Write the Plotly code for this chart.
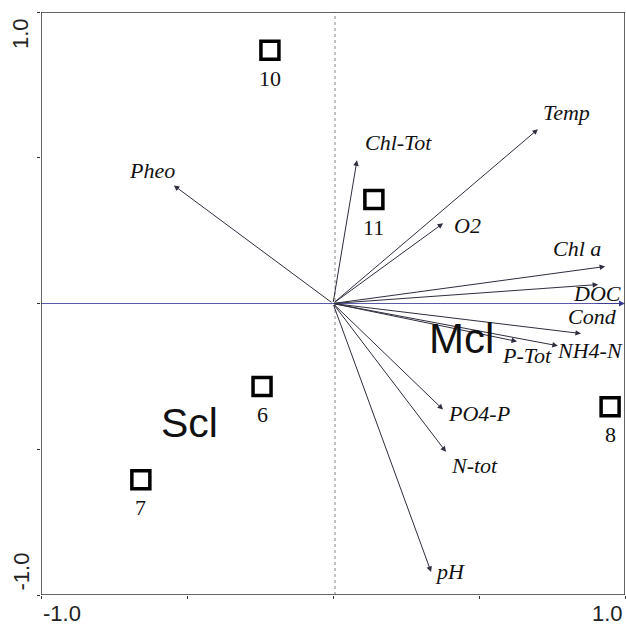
import plotly.graph_objects as go

# Environmental variable loadings (arrow tips)
var_names = ["Temp", "Chl-Tot", "Pheo", "O2", "Chl a", "DOC", "Cond", "NH4-N", "P-Tot", "PO4-P", "N-tot", "pH"]
var_x = [0.702, 0.082, -0.545, 0.377, 0.932, 0.908, 0.849, 0.77, 0.63, 0.377, 0.387, 0.336]
var_y = [0.598, 0.491, 0.405, 0.275, 0.127, 0.065, -0.103, -0.145, -0.13, -0.364, -0.509, -0.921]

# Sites
site_names = ["10", "11", "6", "7", "8"]
site_x = [-0.216, 0.140, -0.243, -0.658, 0.949]
site_y = [0.869, 0.357, -0.285, -0.605, -0.354]

# Group labels
group_names = ["Mcl", "Scl"]
group_x = [0.44, -0.49]
group_y = [-0.12, -0.41]

# label placement (layout) for variable labels
lab_x = [0.801, 0.223, -0.620, 0.462, 0.836, 0.904, 0.887, 0.880, 0.664, 0.500, 0.483, 0.401]
lab_y = [0.654, 0.551, 0.455, 0.266, 0.187, 0.036, -0.046, -0.160, -0.177, -0.376, -0.557, -0.921]

fig = go.Figure()

shapes = [
    dict(type="line", x0=0.007, x1=0.007, y0=-1, y1=1, xref="x", yref="y",
         line=dict(color="#b0b0b0", width=1.5, dash="dot")),
    dict(type="line", x0=-1, x1=1, y0=0, y1=0, xref="x", yref="y",
         line=dict(color="#5a5aa8", width=1.2)),
    dict(type="rect", x0=-1, x1=1, y0=-1, y1=1, xref="x", yref="y",
         line=dict(color="#333333", width=1.5)),
]

annotations = []
annotations.append(dict(x=1, y=0, ax=0.9, ay=0, xref="x", yref="y", axref="x", ayref="y",
                        showarrow=True, arrowhead=2, arrowsize=1, arrowwidth=1.2,
                        arrowcolor="#3a3a90", text=""))
for n, x, y, lx, ly in zip(var_names, var_x, var_y, lab_x, lab_y):
    annotations.append(dict(x=x, y=y, ax=0, ay=0, xref="x", yref="y", axref="x", ayref="y",
                            showarrow=True, arrowhead=2, arrowsize=1.1, arrowwidth=1,
                            arrowcolor="#2e2e3e", text=""))
    annotations.append(dict(x=lx, y=ly, xref="x", yref="y", showarrow=False,
                            text="<i>%s</i>" % n,
                            font=dict(family="Liberation Serif", size=22, color="#111111")))

for n, x, y in zip(site_names, site_x, site_y):
    annotations.append(dict(x=x, y=y, xref="x", yref="y", showarrow=False, text=n,
                            yshift=-28,
                            font=dict(family="Liberation Serif", size=22, color="#111111")))

for n, x, y, s in zip(group_names, group_x, group_y, [42, 41]):
    annotations.append(dict(x=x, y=y, xref="x", yref="y", showarrow=False, text=n,
                            font=dict(family="Liberation Sans", size=s, color="#111111")))

tfont = dict(family="Liberation Sans", size=22, color="#222222")
annotations += [
    dict(x=0, y=0, xref="paper", yref="paper", xanchor="left", yanchor="top", yshift=-4,
         text="-1.0", showarrow=False, font=tfont),
    dict(x=1, y=0, xref="paper", yref="paper", xanchor="right", yanchor="top", yshift=-4,
         text="1.0", showarrow=False, font=tfont),
    dict(x=0, y=1, xref="paper", yref="paper", xanchor="right", yanchor="top", xshift=-6, yshift=-4,
         text="1.0", showarrow=False, font=tfont, textangle=-90),
    dict(x=0, y=0, xref="paper", yref="paper", xanchor="right", yanchor="bottom", xshift=-6, yshift=2,
         text="-1.0", showarrow=False, font=tfont, textangle=-90),
]

fig.add_trace(go.Scatter(x=site_x, y=site_y, mode="markers",
                         marker=dict(symbol="square", size=18, color="white",
                                     line=dict(color="black", width=3.5)),
                         hoverinfo="skip", showlegend=False))

fig.update_layout(
    width=626, height=629,
    margin=dict(l=41, r=1, t=12, b=34),
    paper_bgcolor="white", plot_bgcolor="white",
    shapes=shapes, annotations=annotations,
    xaxis=dict(range=[-1, 1], showgrid=False, zeroline=False, showticklabels=False,
               tickvals=[-1, -0.5, 0, 0.5, 1], ticks="outside", ticklen=3, tickcolor="#333",
               fixedrange=True),
    yaxis=dict(range=[-1, 1], showgrid=False, zeroline=False, showticklabels=False,
               tickvals=[-1, -0.5, 0, 0.5, 1], ticks="outside", ticklen=3, tickcolor="#333",
               fixedrange=True),
    showlegend=False,
)

fig.write_html("out.html", config={"displayModeBar": False},
               post_script="document.body.style.margin='0';document.body.style.overflow='hidden';")
